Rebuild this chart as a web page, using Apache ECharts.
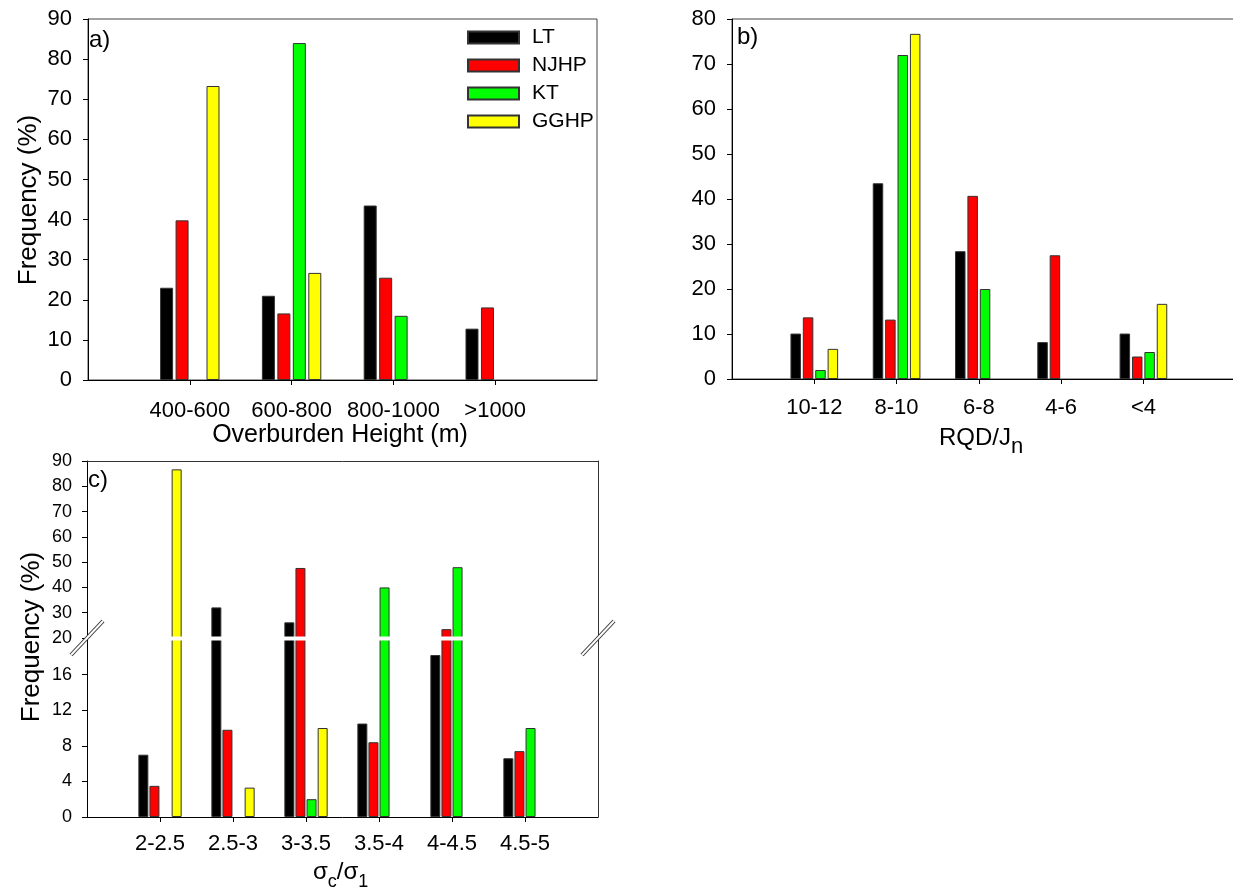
<!DOCTYPE html>
<html>
<head>
<meta charset="utf-8">
<script src="https://cdn.jsdelivr.net/npm/echarts@6/dist/echarts.min.js"></script>
<style>
  html, body { margin: 0; padding: 0; background: #ffffff; }
  #chart { width: 1233px; height: 890px; }
</style>
</head>
<body>
<div id="chart"></div>
<script>
// Tunnels compared in every panel
const seriesNames = ['LT', 'NJHP', 'KT', 'GGHP'];
const seriesColors = ['#000000', '#ff0000', '#00ff00', '#ffff00'];

// a) Overburden height classes, frequency (%)
const heightClasses = ['400-600', '600-800', '800-1000', '>1000'];
const heightLT   = [23.0, 21.0, 43.5, 12.8];
const heightNJHP = [39.8, 16.6, 25.5, 18.1];
const heightKT   = [null, 84.0, 16.0, null];
const heightGGHP = [73.3, 26.7, null, null];
const heightTicks = [0, 90, 10];          // min, max, step

// b) RQD/Jn classes, frequency (%)
const rqdClasses = ['10-12', '8-10', '6-8', '4-6', '<4'];
const rqdLT   = [10.1, 43.5, 28.4, 8.2, 10.1];
const rqdNJHP = [13.7, 13.2, 40.7, 27.5, 5.0];
const rqdKT   = [2.0, 72.0, 20.0, null, 6.0];
const rqdGGHP = [6.7, 76.7, null, null, 16.7];
const rqdTicks = [0, 80, 10];

// c) sigma_c / sigma_1 classes, frequency (%), broken axis at 20
const stressClasses = ['2-2.5', '2.5-3', '3-3.5', '3.5-4', '4-4.5', '4.5-5'];
const stressLT   = [7.0, 32.1, 26.2, 10.5, 18.2, 6.6];
const stressNJHP = [3.5, 9.8, 47.7, 8.4, 23.5, 7.4];
const stressKT   = [null, null, 2.0, 40.0, 48.0, 10.0];
const stressGGHP = [86.7, 3.3, 10.0, null, null, null];
const stressLowTicks = [0, 20, 4];
const stressHighTicks = [20, 90, 10];

const FONT = '"Liberation Sans", Arial, Helvetica, sans-serif';

// Panel geometry (pixels)
const gridA    = { left: 88,  top: 19,  width: 509, height: 361 };
const gridB    = { left: 732, top: 19,  width: 576, height: 360 };
const gridCUp  = { left: 87,  top: 461, width: 511, height: 177 };
const gridCLow = { left: 87,  top: 639, width: 511, height: 178 };

function pad(list, before, after, fill) {
  return [].concat(Array(before).fill(fill), list, Array(after).fill(fill));
}

const axisColor = '#000000';

function categoryAxis(gridIndex, cats, before, after, margin, extra) {
  const axis = {
    type: 'category',
    gridIndex: gridIndex,
    data: pad(cats, before, after, ''),
    boundaryGap: false,
    axisLine: { show: true, onZero: false, lineStyle: { color: axisColor, width: 1 } },
    axisTick: {
      show: true, inside: false, length: 5,
      interval: function (i) { return i >= before && i < before + cats.length; },
      lineStyle: { color: axisColor, width: 1 }
    },
    axisLabel: { show: true, interval: 0, margin: margin, fontSize: 22, color: '#000', fontFamily: FONT },
    splitLine: { show: false },
    splitArea: { show: false }
  };
  return Object.assign(axis, extra || {});
}

function valueAxis(gridIndex, ticks, fontSize, margin, extra) {
  const axis = {
    type: 'value',
    gridIndex: gridIndex,
    min: ticks[0], max: ticks[1], interval: ticks[2],
    axisLine: { show: true, onZero: false, lineStyle: { color: axisColor, width: 1 } },
    axisTick: { show: true, inside: false, length: 5, lineStyle: { color: axisColor, width: 1 } },
    axisLabel: { show: true, margin: margin, fontSize: fontSize, color: '#000', fontFamily: FONT },
    splitLine: { show: false }
  };
  return Object.assign(axis, extra || {});
}

// A plain frame edge: axis line only
function frameAxis(gridIndex, ticks) {
  return {
    type: 'value', gridIndex: gridIndex, position: 'right',
    min: ticks[0], max: ticks[1], interval: ticks[2],
    axisLine: { show: true, onZero: false, lineStyle: { color: '#333', width: 1 } },
    axisTick: { show: false }, axisLabel: { show: false }, splitLine: { show: false }
  };
}

function bars(groups, before, after, xi, yi, width, gap) {
  return groups.map(function (values, i) {
    return {
      type: 'bar',
      name: seriesNames[i],
      xAxisIndex: xi, yAxisIndex: yi,
      data: pad(values, before, after, null),
      barWidth: width,
      barGap: gap,
      clip: true,
      itemStyle: { color: seriesColors[i], borderColor: '#333', borderWidth: 1 },
      emphasis: { disabled: true },
      silent: true
    };
  });
}

const heightGroups = [heightLT, heightNJHP, heightKT, heightGGHP];
const rqdGroups = [rqdLT, rqdNJHP, rqdKT, rqdGGHP];
const stressGroups = [stressLT, stressNJHP, stressKT, stressGGHP];

// Break marks on the panel c frame
const breakY = gridCUp.top + gridCUp.height;
function breakMark(cx, cy) {
  const s = { x1: cx - 16, y1: cy + 17, x2: cx + 16, y2: cy - 17 };
  return [
    { type: 'line', z: 120, shape: s, style: { stroke: '#333', lineWidth: 4 } },
    { type: 'line', z: 121, shape: s, style: { stroke: '#ffffff', lineWidth: 2 } }
  ];
}

function label(text, x, y, size, opts) {
  return Object.assign({
    type: 'text', x: x, y: y, z: 130,
    style: {
      text: text, fontSize: size, fontFamily: FONT, fill: '#000',
      align: 'left', verticalAlign: 'middle', textAlign: 'left', textVerticalAlign: 'middle'
    }
  }, opts || {});
}

function centered(text, x, y, size, rotation) {
  return {
    type: 'text', x: x, y: y, z: 130, rotation: rotation || 0,
    style: {
      text: text, fontSize: size, fontFamily: FONT, fill: '#000',
      align: 'center', verticalAlign: 'middle', textAlign: 'center', textVerticalAlign: 'middle'
    }
  };
}

// Text with a subscript (rich text), anchored at its top-left corner
function subscripted(text, x, y, mainSize, subSize, subDrop) {
  return {
    type: 'text', x: x, y: y, z: 130,
    style: {
      text: text,
      fontFamily: FONT, fontSize: mainSize, fill: '#000',
      align: 'left', verticalAlign: 'top', textAlign: 'left', textVerticalAlign: 'top',
      rich: {
        m: { fontSize: mainSize, fontFamily: FONT, fill: '#000', color: '#000', verticalAlign: 'top' },
        s: { fontSize: subSize, fontFamily: FONT, fill: '#000', color: '#000', padding: [subDrop, 0, 0, 0] }
      }
    }
  };
}

const chart = echarts.init(document.getElementById('chart'), null, { renderer: 'canvas' });

const option = {
  animation: false,
  backgroundColor: '#ffffff',
  textStyle: { fontFamily: FONT },
  grid: [
    Object.assign({ show: true, borderColor: '#444', borderWidth: 1, backgroundColor: 'transparent',
      containLabel: false, outerBoundsMode: 'none' }, gridA),
    Object.assign({ show: true, borderColor: '#444', borderWidth: 1, backgroundColor: 'transparent',
      containLabel: false, outerBoundsMode: 'none' }, gridB),
    Object.assign({ show: false, containLabel: false, outerBoundsMode: 'none' }, gridCUp),
    Object.assign({ show: false, containLabel: false, outerBoundsMode: 'none' }, gridCLow)
  ],
  legend: {
    data: seriesNames,
    orient: 'vertical',
    left: 467, top: 27,
    padding: 0,
    itemWidth: 51, itemHeight: 12, itemGap: 7,
    icon: 'rect',
    selectedMode: false,
    textStyle: { fontSize: 21, color: '#000', fontFamily: FONT, padding: [0, 0, 0, 8] }
  },
  xAxis: [
    categoryAxis(0, heightClasses, 1, 1, 20),
    categoryAxis(1, rqdClasses, 1, 2, 18),
    categoryAxis(2, stressClasses, 1, 1, 16, {
      position: 'top',
      axisTick: { show: false },
      axisLabel: { show: false },
      axisLine: { show: true, onZero: false, lineStyle: { color: '#333', width: 1 } }
    }),
    categoryAxis(3, stressClasses, 1, 1, 16)
  ],
  yAxis: [
    valueAxis(0, heightTicks, 22, 16),
    valueAxis(1, rqdTicks, 22, 16),
    valueAxis(2, stressHighTicks, 18, 15),
    valueAxis(3, stressLowTicks, 18, 15, {
      axisLabel: { show: true, margin: 15, fontSize: 18, color: '#000', fontFamily: FONT, showMaxLabel: false }
    }),
    frameAxis(2, stressHighTicks),
    frameAxis(3, stressLowTicks)
  ],
  series: [].concat(
    bars(heightGroups, 1, 1, 0, 0, 13, '19%'),
    bars(rqdGroups, 1, 2, 1, 1, 10.5, '18%'),
    bars(stressGroups, 1, 1, 2, 2, 10, '11%'),
    bars(stressGroups, 1, 1, 3, 3, 10, '11%')
  ),
  graphic: {
    elements: [].concat(
      // white cut through the bars at the axis break
      [{ type: 'rect', z: 110,
         shape: { x: gridCUp.left + 1.5, y: breakY - 1.5, width: gridCUp.width - 3, height: 4 },
         style: { fill: '#ffffff' } }],
      breakMark(gridCUp.left, breakY),
      breakMark(gridCUp.left + gridCUp.width, breakY),
      [
        label('a)', 89, 40, 24),
        label('b)', 737, 37, 24),
        label('c)', 88, 480, 24),
        centered('Frequency (%)', 29, 200, 26, Math.PI / 2),
        centered('Frequency (%)', 32, 637, 26, Math.PI / 2),
        centered('Overburden Height (m)', 340, 435, 25, 0),
        subscripted('{m|RQD/J}{s|n}', 939, 426, 24, 22, 10),
        subscripted('{m|σ}{s|c}{m|/σ}{s|1}', 313, 860, 24, 18, 13)
      ]
    )
  }
};

chart.setOption(option);
</script>
</body>
</html>
